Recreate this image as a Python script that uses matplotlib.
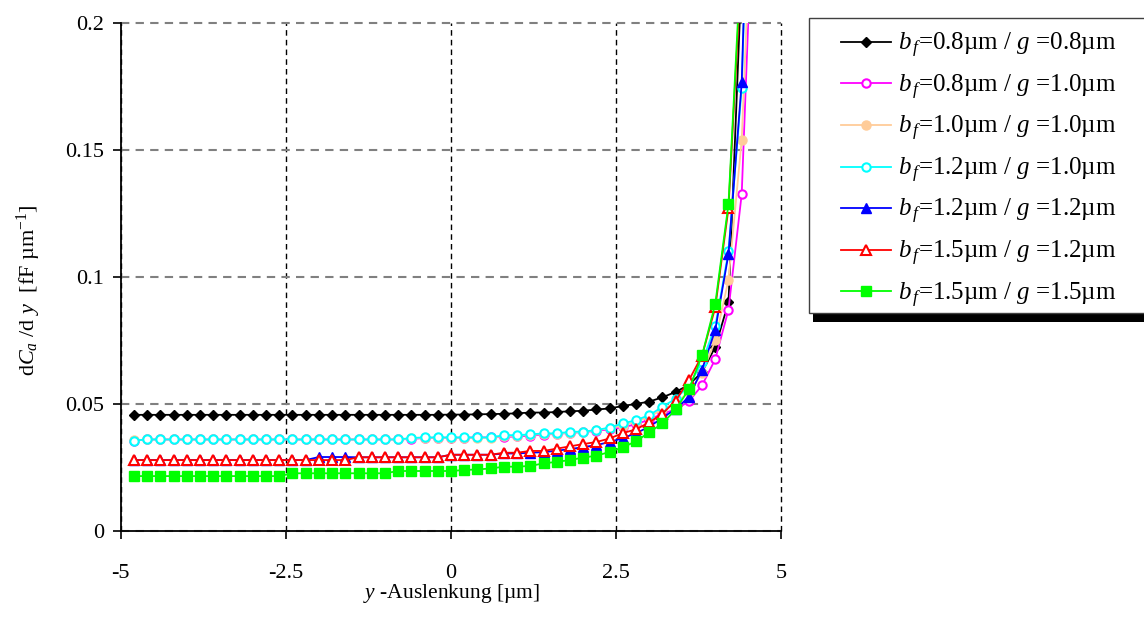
import matplotlib
matplotlib.use('Agg')
import matplotlib.pyplot as plt
from matplotlib.patches import Rectangle


plt.rcParams['font.family'] = ['Liberation Serif', 'DejaVu Serif']
plt.rcParams['mathtext.fontset'] = 'custom'
plt.rcParams['mathtext.rm'] = 'Liberation Serif'
plt.rcParams['mathtext.it'] = 'Liberation Serif:italic'

# y-Auslenkung [um]
y_pos = [-4.8, -4.6, -4.4, -4.2, -4.0, -3.8, -3.6, -3.4, -3.2, -3.0,
         -2.8, -2.6, -2.4, -2.2, -2.0, -1.8, -1.6, -1.4, -1.2, -1.0,
         -0.8, -0.6, -0.4, -0.2, 0.0, 0.2, 0.4, 0.6, 0.8, 1.0,
         1.2, 1.4, 1.6, 1.8, 2.0, 2.2, 2.4, 2.6, 2.8, 3.0,
         3.2, 3.4, 3.6, 3.8, 4.0, 4.2, 4.4, 4.6]

# dC_a/dy [fF/um]
bf08_g08 = [0.0457] * 24 + [0.0458, 0.0458, 0.0459, 0.0460, 0.0461, 0.0463, 0.0466, 0.0466,
                            0.0468, 0.0471, 0.0473, 0.0478, 0.0482, 0.0492, 0.0500, 0.0509,
                            0.0526, 0.0547, 0.0575, 0.0625, 0.0724, 0.0900, 0.2200, 0.4000]
bf08_g10 = [0.0355] + [0.0360] * 20 + [0.0362, 0.0366, 0.0367, 0.0367, 0.0367, 0.0368, 0.0368,
                                       0.0370, 0.0372, 0.0375, 0.0379, 0.0382, 0.0386, 0.0389,
                                       0.0394, 0.0400, 0.0408, 0.0420, 0.0438, 0.0462, 0.0478,
                                       0.0510, 0.0573, 0.0676, 0.0871, 0.1326, 0.2700]
bf10_g10 = [0.0357] + [0.0360] * 20 + [0.0364, 0.0367, 0.0367, 0.0367, 0.0367, 0.0367, 0.0367,
                                       0.0373, 0.0375, 0.0378, 0.0381, 0.0383, 0.0386, 0.0390,
                                       0.0396, 0.0404, 0.0415, 0.0430, 0.0450, 0.0478, 0.0505,
                                       0.0545, 0.0620, 0.0750, 0.0989, 0.1539, 0.2800]
bf12_g10 = [0.0356] + [0.0360] * 20 + [0.0366, 0.0368, 0.0368, 0.0368, 0.0368, 0.0368, 0.0368,
                                       0.0377, 0.0377, 0.0380, 0.0384, 0.0384, 0.0390, 0.0391,
                                       0.0397, 0.0407, 0.0423, 0.0436, 0.0456, 0.0488, 0.0521,
                                       0.0570, 0.0665, 0.0806, 0.1100, 0.1743, 0.3400]
bf12_g12 = [0.0279] * 14 + [0.0291] * 3 + [0.0290] * 7 + [0.0300] * 4 + [
    0.0305, 0.0305, 0.0308, 0.0310, 0.0316, 0.0322, 0.0330, 0.0338, 0.0350, 0.0365,
    0.0385, 0.0410, 0.0445, 0.0480, 0.0527, 0.0635, 0.0792, 0.1090, 0.1765, 0.3500]
bf15_g12 = [0.0279] * 17 + [0.0290] * 7 + [0.0300] * 4 + [
    0.0308, 0.0308, 0.0315, 0.0315, 0.0324, 0.0333, 0.0342, 0.0350, 0.0364, 0.0385,
    0.0400, 0.0427, 0.0462, 0.0512, 0.0593, 0.0690, 0.0880, 0.1270, 0.2250, 0.4000]
bf15_g15 = [0.0216] * 12 + [0.0227] * 8 + [0.0236] * 5 + [
    0.0240, 0.0242, 0.0246, 0.0253, 0.0253, 0.0256, 0.0266, 0.0272, 0.0279, 0.0289,
    0.0296, 0.0311, 0.0329, 0.0353, 0.0388, 0.0423, 0.0478, 0.0557, 0.0691, 0.0894,
    0.1287, 0.2300, 0.4000]

labels = [r'$b_{\,f}$=0.8µm / $g$ =0.8µm',
          r'$b_{\,f}$=0.8µm / $g$ =1.0µm',
          r'$b_{\,f}$=1.0µm / $g$ =1.0µm',
          r'$b_{\,f}$=1.2µm / $g$ =1.0µm',
          r'$b_{\,f}$=1.2µm / $g$ =1.2µm',
          r'$b_{\,f}$=1.5µm / $g$ =1.2µm',
          r'$b_{\,f}$=1.5µm / $g$ =1.5µm']

x_ticks = [-5, -2.5, 0, 2.5, 5]
x_ticklabels = ['-5', '-2.5', '0', '2.5', '5']
y_ticks = [0, 0.05, 0.1, 0.15, 0.2]
y_ticklabels = ['0', '0.05', '0.1', '0.15', '0.2']


def main():
    fig = plt.figure(figsize=(11.44, 6.23), dpi=100)
    ax = fig.add_axes([0.1055, 0.1477, 0.5775, 0.8159])

    series = [bf08_g08, bf08_g10, bf10_g10, bf12_g10, bf12_g12, bf15_g12, bf15_g15]
    styles = [
        dict(color='black', marker='D', ms=5.5, mfc='black', mec='black'),
        dict(color='#FF00FF', marker='o', ms=6, mfc='white', mec='#FF00FF', mew=1.5),
        dict(color='#FFCC99', marker='o', ms=6.5, mfc='#FFCC99', mec='#FFCC99'),
        dict(color='#00FFFF', marker='o', ms=6, mfc='white', mec='#00FFFF', mew=1.5),
        dict(color='#0000FF', marker='^', ms=7.5, mfc='#0000FF', mec='#0000FF'),
        dict(color='#FF0000', marker='^', ms=7.5, mfc='white', mec='#FF0000', mew=1.5),
        dict(color='#00FF00', marker='s', ms=6.5, mfc='#00FF00', mec='#00FF00'),
    ]
    handles = []
    for vals, st, lab in zip(series, styles, labels):
        h, = ax.plot(y_pos, vals, lw=1.3, label=lab, **st)
        handles.append(h)

    ax.set_xlim(-5, 5)
    ax.set_ylim(0, 0.2)
    ax.set_xticks(x_ticks)
    ax.set_xticklabels(x_ticklabels)
    ax.set_yticks(y_ticks)
    ax.set_yticklabels(y_ticklabels)

    for s in ['top', 'right']:
        ax.spines[s].set_visible(False)
    for s in ['left', 'bottom']:
        ax.spines[s].set_linewidth(1.3)

    ax.set_axisbelow(True)
    ax.xaxis.grid(True, color='black', linestyle=(0, (4, 3)), lw=1.0)
    ax.yaxis.grid(True, color='#808080', linestyle=(0, (4, 3)), lw=1.5)
    for gl in ax.get_xgridlines() + ax.get_ygridlines():
        gl.set_clip_on(False)

    ax.tick_params(axis='both', direction='out', length=6, width=1.2, labelsize=16)
    ax.tick_params(axis='x', pad=18)
    ax.tick_params(axis='y', pad=6)

    ax.set_xlabel(r'$y$ -Auslenkung [µm]', fontsize=15.5)
    ax.set_ylabel(r'd$C_a$ /d $y$  [fF µm$^{-1}$]', fontsize=16)
    ax.xaxis.set_label_coords(0.5, -0.1)
    ax.yaxis.set_label_coords(-0.118, 0.474)

    # legend frame with black shadow, running off the right edge
    W, H = 1144.0, 623.0
    shadow = Rectangle((813 / W, 1 - 322 / H), 400 / W, 12 / H, transform=fig.transFigure,
                       facecolor='black', edgecolor='none', zorder=1)
    frame = Rectangle((809 / W, 1 - 313 / H), 400 / W, (313 - 18) / H, transform=fig.transFigure,
                      facecolor='white', edgecolor='#404040', lw=1.0, zorder=2)
    fig.add_artist(shadow)
    fig.add_artist(frame)

    leg = fig.legend(handles, labels, loc='upper left', bbox_to_anchor=(841 / W, 1 - 31 / H),
                     frameon=False, fontsize=18, handlelength=2.0, handletextpad=0.3,
                     labelspacing=0.5, borderpad=0, borderaxespad=0)
    leg.set_zorder(3)

    fig.savefig('out.png', dpi=100)


if __name__ == '__main__':
    main()
